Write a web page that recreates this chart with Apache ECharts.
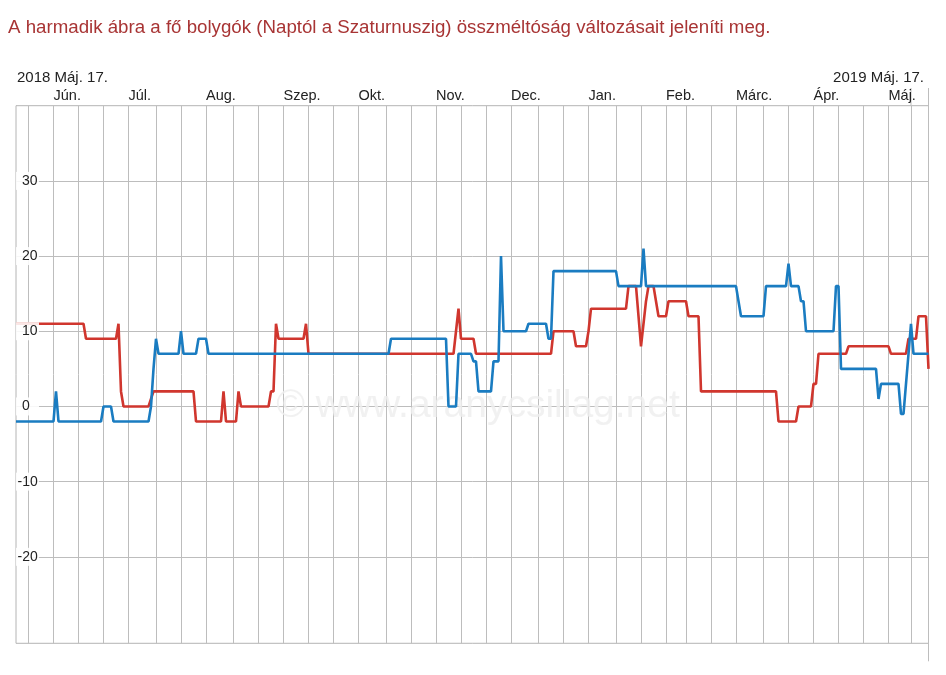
<!DOCTYPE html>
<html><head><meta charset="utf-8">
<script src="https://cdn.jsdelivr.net/npm/echarts@6/dist/echarts.min.js"></script>
<style>html,body{margin:0;padding:0;background:#fff}#c{width:946px;height:675px}</style>
</head><body><div id="c"></div>
<script>
// ---- data ----
const titleText = 'A harmadik ábra a fő bolygók (Naptól a Szaturnuszig) összméltóság változásait jeleníti meg.';
const startLabel = '2018 Máj. 17.';
const endLabel = '2019 Máj. 17.';
const firstDay = [2018, 4, 17];   // 2018-05-17 (month 0-based)
const dayCount = 366;
// daily values as [value, number of days] runs
const redRuns = [[11,28],[9,13],[11,1],[2,1],[0,11],[1,1],[2,17],[-2,11],[2,1],[-2,5],[2,1],[0,12],[2,2],[11,1],[9,11],[11,1],[7,59],[10,1],[13,1],[9,6],[7,31],[10,9],[8,5],[10,1],[13,15],[16,4],[12,1],[8,1],[11,1],[14,1],[16,3],[14,1],[12,4],[14,8],[12,5],[2,31],[-2,8],[0,6],[3,2],[7,12],[8,17],[7,7],[9,4],[12,4],[5,1]];
const blueRuns = [[-2,16],[2,1],[-2,18],[0,4],[-2,15],[0,1],[5,1],[9,1],[7,9],[10,1],[7,6],[9,4],[7,73],[9,23],[0,4],[7,6],[6,2],[2,6],[6,3],[20,1],[10,10],[11,8],[9,2],[18,26],[16,10],[21,1],[16,37],[14,1],[12,10],[16,9],[19,1],[16,4],[14,2],[10,12],[16,2],[5,15],[1,1],[3,8],[-1,2],[3,1],[7,1],[11,1],[7,7]];
const yTicks = [-20, -10, 0, 10, 20, 30];
const gridDates = ['2018-05-22','2018-06-01','2018-06-11','2018-06-21','2018-07-01','2018-07-12','2018-07-22','2018-08-01','2018-08-12','2018-08-22','2018-09-01','2018-09-11','2018-09-21','2018-10-01','2018-10-12','2018-10-22','2018-11-01','2018-11-11','2018-11-21','2018-12-01','2018-12-12','2018-12-22','2019-01-01','2019-01-12','2019-01-22','2019-02-01','2019-02-09','2019-02-19','2019-03-01','2019-03-12','2019-03-22','2019-04-01','2019-04-11','2019-04-21','2019-05-01','2019-05-10'];
const markerDate = '2019-05-10';
const monthNames = ['Jan.','Feb.','Márc.','Ápr.','Máj.','Jún.','Júl.','Aug.','Szep.','Okt.','Nov.','Dec.'];
const watermark = '© www.aranycsillag.net';

// ---- build ----
function expand(runs){const out=[];runs.forEach(([v,n])=>{for(let i=0;i<n;i++)out.push(v);});return out;}
const red = expand(redRuns), blue = expand(blueRuns);
const dates = [];
{const t0 = Date.UTC(firstDay[0], firstDay[1], firstDay[2]);
 for (let i=0;i<dayCount;i++){dates.push(new Date(t0 + i*86400000).toISOString().slice(0,10));}}
const gridSet = new Set(gridDates);
const FONT = 'Liberation Sans, Arial, sans-serif';
const GRID = '#bdbdbd';

const chart = echarts.init(document.getElementById('c'), null, {renderer:'canvas'});
const option = {
  animation: false,
  backgroundColor: '#fff',
  title: {text: titleText, left: 8, top: 18, padding: 0,
    textStyle: {fontSize: 18.7, fontWeight: 'normal', color: '#a83434', fontFamily: FONT}},
  grid: {left: 16, right: 17.5, top: 105.7, bottom: 31.7, show: true, borderColor: '#b4b4b4', borderWidth: 1},
  xAxis: {
    type: 'category', data: dates, boundaryGap: false, position: 'top',
    axisLine: {show: false}, axisTick: {show: false},
    axisLabel: {interval: (i, v) => v.slice(8) === '01', formatter: v => monthNames[+v.slice(5,7) - 1],
      align: 'left', margin: 2, fontSize: 14.5, color: '#222', fontFamily: FONT},
    splitLine: {show: true, interval: (i, v) => gridSet.has(v), lineStyle: {color: GRID, width: 1}}
  },
  yAxis: {
    type: 'value', min: -31.5, max: 40, z: 10,
    axisLine: {show: false}, axisTick: {show: false}, splitLine: {show: false},
    axisLabel: {customValues: yTicks, inside: true, margin: 0,
      formatter: v => v < 0 ? '{n|' + v + '}' : '{p|' + v + '}',
      backgroundColor: 'rgba(255,255,255,0.88)', padding: [2, 0, 2, 1], width: 22,
      fontSize: 14, color: '#222', fontFamily: FONT,
      rich: {p: {padding: [0,0,0,5], fontSize: 14, color: '#222', fontFamily: FONT},
             n: {padding: [0,0,0,0.5], fontSize: 14, color: '#222', fontFamily: FONT}}}
  },
  graphic: [
    {type: 'text', left: 17, top: 70, style: {text: startLabel, font: '15px ' + FONT, fill: '#222'}},
    {type: 'text', right: 22, top: 70, style: {text: endLabel, font: '15px ' + FONT, fill: '#222'}},
    {type: 'text', x: 478, y: 406, z: 1.5, style: {text: watermark, font: '39px ' + FONT, fill: 'rgba(238,238,238,0.85)', align: 'center', verticalAlign: 'middle'}}
  ],
  series: [
    {name: 'red', type: 'line', data: red, symbol: 'none', z: 2,
      lineStyle: {color: '#d0362e', width: 2.6},
      markLine: {silent: true, z: 1, symbol: 'none', label: {show: false}, animation: false,
        lineStyle: {color: GRID, width: 1, type: 'solid'}, emphasis: {disabled: true},
        data: yTicks.map(v => ({yAxis: v}))}},
    {name: 'blue', type: 'line', data: blue, symbol: 'none', z: 3,
      lineStyle: {color: '#1a7cc1', width: 2.6}}
  ]
};
chart.setOption(option);
// extended marker lines above the plot (positions from the axis scale)
const xm = chart.convertToPixel({xAxisIndex: 0}, dates.indexOf(markerDate));
const xe = chart.convertToPixel({xAxisIndex: 0}, dates.length - 1);
const yTop = chart.convertToPixel({yAxisIndex: 0}, 40);
const yBot = chart.convertToPixel({yAxisIndex: 0}, -31.5);
chart.setOption({graphic: option.graphic.concat([
  {type: 'line', shape: {x1: xm, y1: 88, x2: xm, y2: yTop}, style: {stroke: GRID, lineWidth: 1}},
  {type: 'line', shape: {x1: xe, y1: 88, x2: xe, y2: yBot + 18}, style: {stroke: GRID, lineWidth: 1}}
])});
</script></body></html>
